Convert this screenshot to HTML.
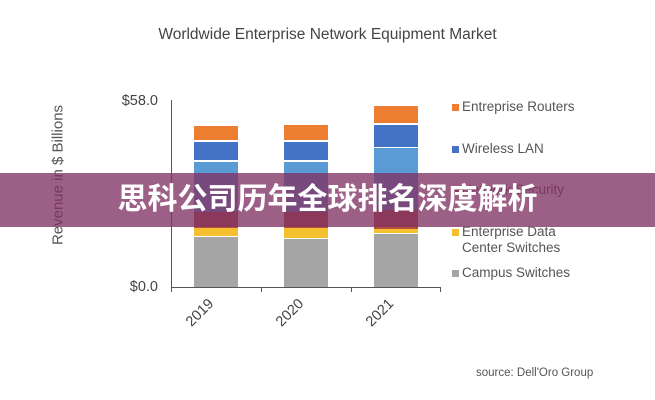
<!DOCTYPE html><html><head><meta charset="utf-8"><style>
body{margin:0;width:655px;height:400px;background:#fff;overflow:hidden;position:relative;font-family:"Liberation Sans",sans-serif;color:#444}
.a{position:absolute}
.b{position:absolute;width:44px}
.lg{position:absolute;left:452px;width:7px;height:7px}
.lt{position:absolute;left:462px;font-size:13.5px;color:#555;line-height:16px}
</style></head><body>
<div class="a" style="left:0;width:655px;top:26px;text-align:center;font-size:15.5px;color:#444">Worldwide Enterprise Network Equipment Market</div>
<div class="a" style="left:58px;top:175px;transform:translate(-50%,-50%) rotate(-90deg);font-size:15px;white-space:nowrap;color:#555">Revenue in $ Billions</div>
<div class="a" style="right:497px;top:93px;font-size:14.5px">$58.0</div>
<div class="a" style="right:497px;top:279px;font-size:14.5px">$0.0</div>
<div class="a" style="left:171px;top:100px;width:1px;height:188px;background:#555"></div>
<div class="a" style="left:171px;top:287px;width:270px;height:1px;background:#555"></div>
<div class="a" style="left:171px;top:287px;width:1px;height:5px;background:#555"></div>
<div class="a" style="left:261px;top:287px;width:1px;height:5px;background:#555"></div>
<div class="a" style="left:351px;top:287px;width:1px;height:5px;background:#555"></div>
<div class="a" style="left:440px;top:287px;width:1px;height:5px;background:#555"></div>
<div class="b" style="left:194px;top:126px;height:14px;background:#ed7d31"></div>
<div class="b" style="left:194px;top:142px;height:18px;background:#4472c4"></div>
<div class="b" style="left:194px;top:162px;height:50px;background:#5b9bd5"></div>
<div class="b" style="left:194px;top:212px;height:16px;background:#b5503a"></div>
<div class="b" style="left:194px;top:228px;height:8px;background:#f4c030"></div>
<div class="b" style="left:194px;top:237px;height:50px;background:#a5a5a5"></div>
<div class="b" style="left:284px;top:125px;height:15px;background:#ed7d31"></div>
<div class="b" style="left:284px;top:142px;height:18px;background:#4472c4"></div>
<div class="b" style="left:284px;top:162px;height:50px;background:#5b9bd5"></div>
<div class="b" style="left:284px;top:212px;height:16px;background:#b5503a"></div>
<div class="b" style="left:284px;top:228px;height:10px;background:#f4c030"></div>
<div class="b" style="left:284px;top:239px;height:48px;background:#a5a5a5"></div>
<div class="b" style="left:374px;top:106px;height:17px;background:#ed7d31"></div>
<div class="b" style="left:374px;top:125px;height:22px;background:#4472c4"></div>
<div class="b" style="left:374px;top:148px;height:62px;background:#5b9bd5"></div>
<div class="b" style="left:374px;top:210px;height:19px;background:#b5503a"></div>
<div class="b" style="left:374px;top:229px;height:4px;background:#f4c030"></div>
<div class="b" style="left:374px;top:234px;height:53px;background:#a5a5a5"></div>
<div class="a" style="left:184px;top:305px;transform:rotate(-45deg);font-size:14.5px">2019</div>
<div class="a" style="left:274px;top:305px;transform:rotate(-45deg);font-size:14.5px">2020</div>
<div class="a" style="left:364px;top:305px;transform:rotate(-45deg);font-size:14.5px">2021</div>
<div class="lg" style="top:104px;background:#ed7d31"></div><div class="lt" style="top:99px">Entreprise Routers</div>
<div class="lg" style="top:146px;background:#4472c4"></div><div class="lt" style="top:141px">Wireless LAN</div>
<div class="lg" style="top:187px;background:#b5503a"></div><div class="lt" style="top:182px">Network Security</div>
<div class="lg" style="top:229px;background:#f4c030"></div><div class="lt" style="top:224px">Enterprise Data<br>Center Switches</div>
<div class="lg" style="top:270px;background:#a5a5a5"></div><div class="lt" style="top:265px">Campus Switches</div>
<div class="a" style="left:476px;top:367px;font-size:11.5px;color:#555">source: Dell'Oro Group</div>
<div class="a" style="left:0;top:173px;width:655px;height:54px;background:rgba(128,50,100,0.78)"></div>
<div class="a" style="left:0;top:173px;width:655px;height:54px;line-height:54px;text-align:center;color:#fff;font-weight:bold;font-size:30px;font-family:'Liberation Sans','Noto Sans CJK SC',sans-serif">思科公司历年全球排名深度解析</div>
</body></html>
